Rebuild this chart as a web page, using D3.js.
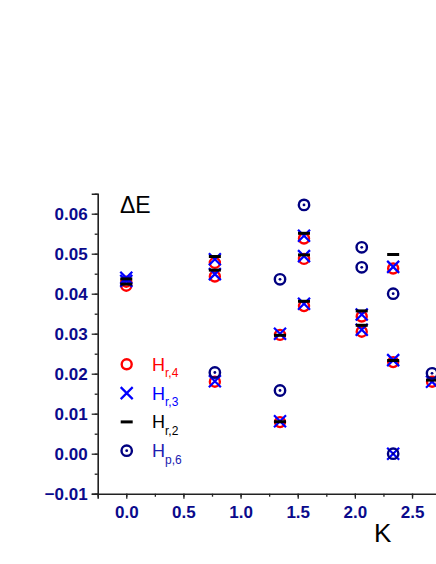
<!DOCTYPE html>
<html>
<head>
<meta charset="utf-8">
<script src="https://cdn.jsdelivr.net/npm/d3@7"></script>
<style>
  body { margin: 0; background: #fff; }
  svg { display: block; font-family: "Liberation Sans", Arial, sans-serif; }
</style>
</head>
<body>
<svg id="chart"></svg>
<script>
// K positions of the columns
const kValues = [0.0, 0.775, 1.345, 1.555, 2.06, 2.335, 2.675];

// dE values per column, one list per series
const hr4 = [[0.0420, 0.0430], [0.0477, 0.0443, 0.0180], [0.0297, 0.0079], [0.0538, 0.0487, 0.0369],
             [0.0343, 0.0305], [0.0463, 0.0229], [0.0180]];
const hr3 = [[0.0440, 0.0432], [0.0486, 0.0449, 0.0181], [0.0300, 0.0081], [0.0545, 0.0494, 0.0375],
             [0.0348, 0.0310], [0.0467, 0.0234, 0.0000], [0.0180]];
const hr2 = [[0.0437, 0.0424], [0.0493, 0.0459], [0.0296, 0.0080], [0.0551, 0.0497, 0.0381],
             [0.0357, 0.0321], [0.0498, 0.0233], [0.0184]];
const hp6 = [[], [0.0203], [0.0436, 0.0158], [0.0622],
             [0.0516, 0.0466], [0.0400, 0.0000], [0.0201]];

const seriesNames = ["r,4", "r,3", "r,2", "p,6"];
const seriesColors = ["#ff0000", "#0000ff", "#000000", "#000080"];
const seriesKinds = ["circle", "cross", "dash", "dot"];

const xTicks = [0.0, 0.5, 1.0, 1.5, 2.0, 2.5];
const yTicks = [-0.01, 0.00, 0.01, 0.02, 0.03, 0.04, 0.05, 0.06];

const width = 436, height = 564;
const svg = d3.select("#chart").attr("width", width).attr("height", height);

const x = d3.scaleLinear().domain([-0.25, 3.0]).range([97.7, 97.7 + 3.25 * 114.3]);
const y = d3.scaleLinear().domain([-0.01, 0.065]).range([493.7, 193.7]);

const tickColor = "#0a0a8c";
const axisColor = "#222";

// minor ticks
svg.append("g")
    .attr("transform", `translate(0,${y(-0.01)})`)
    .call(d3.axisBottom(x).tickValues(d3.range(-0.25, 3.01, 0.25)).tickSize(3).tickFormat(""))
    .call(g => g.select(".domain").remove())
    .selectAll("line").attr("stroke", axisColor).attr("stroke-width", 1.3);
svg.append("g")
    .attr("transform", `translate(${x(-0.25)},0)`)
    .call(d3.axisLeft(y).tickValues(d3.range(-0.01, 0.0651, 0.005)).tickSize(3).tickFormat(""))
    .call(g => g.select(".domain").remove())
    .selectAll("line").attr("stroke", axisColor).attr("stroke-width", 1.3);

// major axes
const xAxis = svg.append("g")
    .attr("transform", `translate(0,${y(-0.01)})`)
    .call(d3.axisBottom(x).tickValues(xTicks).tickSize(5).tickPadding(7).tickFormat(d3.format(".1f")));
const yAxis = svg.append("g")
    .attr("transform", `translate(${x(-0.25)},0)`)
    .call(d3.axisLeft(y).tickValues(yTicks).tickSize(6).tickPadding(4).tickFormat(d3.format(".2f")));

[xAxis, yAxis].forEach(g => {
    g.select(".domain").attr("stroke", axisColor).attr("stroke-width", 1.6);
    g.selectAll(".tick line").attr("stroke", axisColor).attr("stroke-width", 1.3);
    g.selectAll(".tick text")
        .attr("fill", tickColor)
        .style("font-size", "17px")
        .style("font-weight", "bold");
});

// marker drawing
function drawMarker(g, kind, color) {
    if (kind === "circle") {
        g.append("circle").attr("r", 5).attr("fill", "none").attr("stroke", color).attr("stroke-width", 2.4);
    } else if (kind === "cross") {
        g.append("path").attr("d", "M-6,-6L6,6M-6,6L6,-6").attr("stroke", color).attr("stroke-width", 2.2).attr("fill", "none");
    } else if (kind === "dash") {
        g.append("path").attr("d", "M-6,0L6,0").attr("stroke", color).attr("stroke-width", 3).attr("fill", "none");
    } else {
        g.append("circle").attr("r", 5.2).attr("fill", "none").attr("stroke", color).attr("stroke-width", 2.4);
        g.append("circle").attr("r", 1.4).attr("fill", color);
    }
}

const allSeries = [hr4, hr3, hr2, hp6];
allSeries.forEach((series, si) => {
    const pts = [];
    series.forEach((vals, ci) => vals.forEach(v => pts.push({ k: kValues[ci], v: v })));
    svg.append("g").selectAll("g")
        .data(pts)
        .enter()
        .append("g")
        .attr("transform", d => `translate(${x(d.k)},${y(d.v)})`)
        .each(function () { drawMarker(d3.select(this), seriesKinds[si], seriesColors[si]); });
});

// legend
seriesNames.forEach((name, i) => {
    const ly = 364.3 + i * 28.8;
    drawMarker(svg.append("g").attr("transform", `translate(126.7,${ly})`), seriesKinds[i], seriesColors[i]);
    const t = svg.append("text")
        .attr("x", 152)
        .attr("y", ly + 6.5)
        .attr("fill", seriesColors[i] === "#000080" ? "#2020b0" : seriesColors[i])
        .style("font-size", "18px");
    t.append("tspan").text("H");
    t.append("tspan").attr("dy", 6.5).style("font-size", "12px").text(name);
});

// axis titles
svg.append("text")
    .attr("x", 120)
    .attr("y", 212.7)
    .style("font-size", "23px")
    .text("ΔE");
svg.append("text")
    .attr("x", 374)
    .attr("y", 541.7)
    .style("font-size", "26px")
    .text("K");
</script>
</body>
</html>
